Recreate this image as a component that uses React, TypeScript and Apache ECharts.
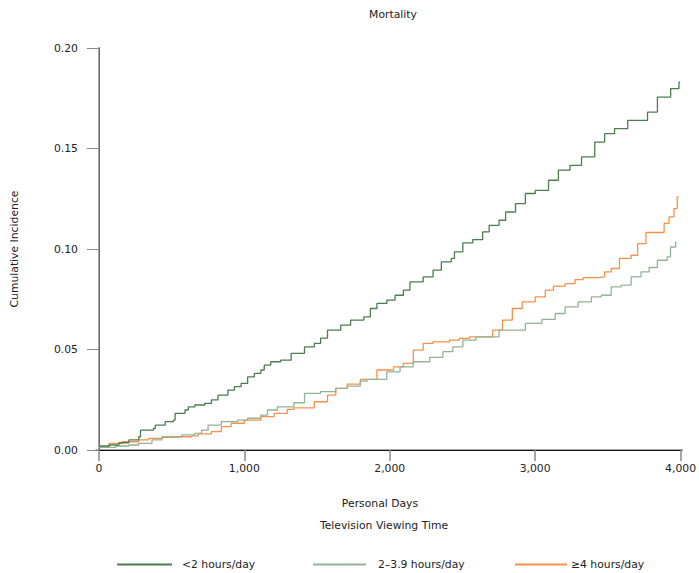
import React, { useEffect, useRef } from "react";
import * as echarts from "echarts";

const seriesNames = ["<2 hours/day", "2–3.9 hours/day", "≥4 hours/day"];
const seriesColors = ["#4d7d4f", "#93b396", "#f7914a"];

const xTickValues = [0, 1000, 2000, 3000, 4000];
const yTickValues = [0, 0.05, 0.1, 0.15, 0.2];

// [personal days, cumulative incidence]
const under2: [number, number][] = [
  [2, 0.002], [70, 0.0025], [138, 0.0036], [206, 0.005], [274, 0.0066], [286, 0.0099],
  [376, 0.0108], [388, 0.0124], [456, 0.0141], [512, 0.0149], [524, 0.0182], [592, 0.0199],
  [615, 0.0215], [660, 0.0224], [728, 0.0232], [774, 0.0249], [819, 0.0273], [887, 0.0298],
  [932, 0.0315], [978, 0.0331], [1023, 0.0364], [1069, 0.0381], [1114, 0.0398], [1137, 0.0422],
  [1182, 0.0439], [1250, 0.0447], [1322, 0.0481], [1414, 0.0513], [1482, 0.053], [1525, 0.0557],
  [1572, 0.0596], [1663, 0.0621], [1731, 0.0646], [1822, 0.0662], [1867, 0.0704], [1912, 0.0729],
  [1980, 0.0746], [2037, 0.077], [2094, 0.0795], [2139, 0.0836], [2230, 0.0861], [2298, 0.0895],
  [2355, 0.0936], [2423, 0.0953], [2445, 0.0986], [2503, 0.103], [2571, 0.1047], [2639, 0.1085],
  [2684, 0.1118], [2752, 0.1143], [2797, 0.1184], [2865, 0.1226], [2933, 0.1276], [3001, 0.1292],
  [3092, 0.1342], [3160, 0.1392], [3240, 0.1416], [3319, 0.1458], [3410, 0.1532], [3478, 0.1574],
  [3546, 0.1599], [3637, 0.164], [3773, 0.1681], [3841, 0.1756], [3932, 0.1798], [3989, 0.183],
  [3998, 0.183],
];

const from2to39: [number, number][] = [
  [2, 0.0013], [116, 0.002], [206, 0.0025], [274, 0.0033], [365, 0.005], [434, 0.0063],
  [502, 0.0066], [570, 0.0075], [660, 0.0083], [706, 0.0099], [751, 0.0124], [842, 0.0141],
  [955, 0.0149], [1023, 0.0158], [1114, 0.0174], [1159, 0.0199], [1227, 0.0215], [1341, 0.0235],
  [1414, 0.0282], [1525, 0.029], [1629, 0.0307], [1708, 0.0318], [1797, 0.0343], [1844, 0.0351],
  [1980, 0.0389], [2071, 0.0414], [2162, 0.0439], [2275, 0.0461], [2366, 0.0489], [2434, 0.0513],
  [2503, 0.0547], [2593, 0.0563], [2752, 0.0596], [2933, 0.063], [3047, 0.065], [3138, 0.0679],
  [3206, 0.0712], [3296, 0.0737], [3387, 0.0762], [3455, 0.077], [3523, 0.0812], [3592, 0.082],
  [3660, 0.0861], [3728, 0.0886], [3784, 0.0908], [3841, 0.0944], [3909, 0.0961], [3931, 0.101],
  [3966, 0.1035], [3972, 0.1035],
];

const atLeast4: [number, number][] = [
  [2, 0.0016], [70, 0.0033], [161, 0.0041], [274, 0.005], [342, 0.0058], [434, 0.0066],
  [638, 0.007], [683, 0.008], [774, 0.0091], [842, 0.0116], [910, 0.0133], [1000, 0.0149],
  [1114, 0.0166], [1205, 0.0182], [1295, 0.0202], [1341, 0.021], [1482, 0.024], [1572, 0.0273],
  [1629, 0.0307], [1708, 0.0328], [1799, 0.0351], [1912, 0.0398], [2026, 0.0414], [2094, 0.0431],
  [2162, 0.0497], [2230, 0.053], [2298, 0.0538], [2411, 0.0547], [2479, 0.0555], [2548, 0.0563],
  [2707, 0.0596], [2775, 0.0646], [2843, 0.0704], [2911, 0.0737], [3001, 0.0762], [3070, 0.0795],
  [3126, 0.0815], [3206, 0.0828], [3274, 0.0848], [3330, 0.0858], [3432, 0.0861], [3478, 0.0886],
  [3523, 0.0903], [3580, 0.0953], [3660, 0.0969], [3705, 0.1027], [3762, 0.1082], [3853, 0.1082],
  [3887, 0.1127], [3921, 0.116], [3955, 0.1201], [3977, 0.1259], [3989, 0.1262],
];

const seriesData = [under2, from2to39, atLeast4];

const FONT = "DejaVu Sans";
const TEXT = "#222";
const FS = 10.8;

export default function App() {
  const ref = useRef<HTMLDivElement>(null);
  useEffect(() => {
    document.body.style.margin = "0";
    if (!ref.current) return;
    const chart = echarts.init(ref.current, null, { renderer: "svg" });
    const legendPos = [
      { left: 112, w: 55, pad: 5 },
      { left: 308, w: 53, pad: 7 },
      { left: 510, w: 52, pad: -1 },
    ];
    chart.setOption({
      animation: false,
      backgroundColor: "#fff",
      textStyle: { fontFamily: FONT },
      title: {
        text: "Mortality",
        left: 388,
        top: 4,
        textAlign: "center",
        textStyle: { fontFamily: FONT, fontSize: FS, fontWeight: "normal", color: TEXT },
      },
      grid: { left: 96, right: 11, top: 48, bottom: 123, containLabel: false },
      legend: seriesNames.map((n, i) => ({
        data: [n],
        left: legendPos[i].left,
        top: 554,
        icon: "rect",
        itemWidth: legendPos[i].w,
        itemHeight: 2,
        textStyle: { fontFamily: FONT, fontSize: FS, color: TEXT, padding: [0, 0, 0, legendPos[i].pad] },
      })),
      xAxis: [
        {
          type: "value",
          min: -20,
          max: 4010,
          axisLine: { show: true, lineStyle: { color: "#8a8a8a", width: 1.5 } },
          axisTick: { show: true, customValues: xTickValues, length: 11, lineStyle: { color: "#8a8a8a", width: 1.5 } },
          axisLabel: {
            customValues: xTickValues,
            margin: 13,
            fontFamily: FONT,
            fontSize: FS,
            color: TEXT,
            formatter: (v: number) => v.toLocaleString("en-US"),
          },
          splitLine: { show: false },
        },
        {
          type: "value",
          position: "top",
          min: -20,
          max: 4010,
          axisLine: { show: true, lineStyle: { color: "#111", width: 1 } },
          axisTick: { show: false },
          axisLabel: { show: false },
          splitLine: { show: false },
        },
      ],
      yAxis: [
        {
          type: "value",
          min: 0,
          max: 0.2,
          interval: 0.05,
          axisLine: { show: true, lineStyle: { color: "#111", width: 1 } },
          axisTick: { show: true, length: 12, lineStyle: { color: "#8a8a8a", width: 1 } },
          axisLabel: {
            margin: 18,
            fontFamily: FONT,
            fontSize: FS,
            color: TEXT,
            customValues: yTickValues,
            formatter: (v: number) => v.toFixed(2),
          },
          splitLine: { show: false },
        },
        {
          type: "value",
          position: "right",
          min: 0,
          max: 0.2,
          axisLine: { show: true, lineStyle: { color: "#8a8a8a", width: 1.5 } },
          axisTick: { show: false },
          axisLabel: { show: false },
          splitLine: { show: false },
        },
      ],
      graphic: [
        {
          type: "text",
          x: 380,
          y: 503,
          style: { text: "Personal Days", fontFamily: FONT, fontSize: FS, fill: TEXT, align: "center", verticalAlign: "middle" },
        },
        {
          type: "text",
          x: 384,
          y: 525,
          style: { text: "Television Viewing Time", fontFamily: FONT, fontSize: FS, fill: TEXT, align: "center", verticalAlign: "middle" },
        },
        {
          type: "text",
          x: 14,
          y: 249,
          rotation: Math.PI / 2,
          style: {
            text: "Cumulative Incidence",
            fontFamily: FONT,
            fontSize: FS,
            fill: TEXT,
            align: "center",
            verticalAlign: "middle",
          },
        },
      ],
      series: seriesData.map((d, i) => ({
        name: seriesNames[i],
        type: "line",
        step: "end",
        data: d,
        symbol: "none",
        color: seriesColors[i],
        lineStyle: { color: seriesColors[i], width: 1.3 },
        z: 3 - i,
      })),
    });
    return () => chart.dispose();
  }, []);
  return <div ref={ref} style={{ width: 699, height: 573 }} />;
}
